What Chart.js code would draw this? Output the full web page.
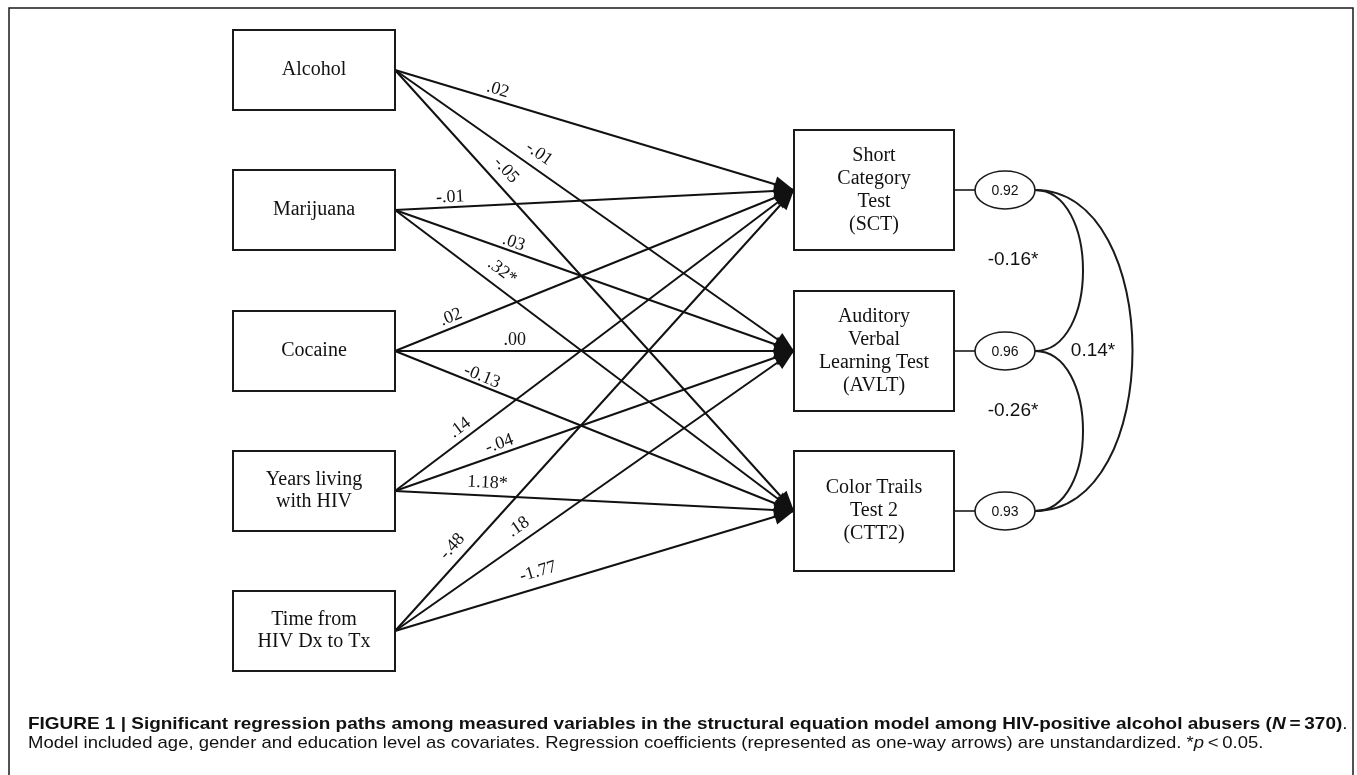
<!DOCTYPE html>
<html>
<head>
<meta charset="utf-8">
<script src="https://cdn.jsdelivr.net/npm/chart.js@4.4.1/dist/chart.umd.min.js"></script>
<style>
  body { margin: 0; background: #fff; }
  #wrap { position: relative; width: 1357px; height: 775px; overflow: hidden; }
  .cap { position: absolute; left: 28px; font-family: "Liberation Sans", Arial, sans-serif; font-size: 17px; line-height: 20px; color: #111; white-space: nowrap; transform-origin: 0 0; }
  #cap1 { top: 714px; font-weight: bold; }
  #cap2 { top: 733px; }
</style>
</head>
<body>
<div id="wrap">
  <canvas id="pathChart" width="1357" height="775"></canvas>
  <div class="cap" id="cap1">FIGURE 1 | Significant regression paths among measured variables in the structural equation model among HIV-positive alcohol abusers (<i>N</i>&#8201;=&#8201;370)<span style="font-weight:normal">.</span></div>
  <div class="cap" id="cap2">Model included age, gender and education level as covariates. Regression coefficients (represented as one-way arrows) are unstandardized. *<i>p</i>&#8201;&lt;&#8201;0.05.</div>
</div>
<script>
// data
const predictors = ['Alcohol', 'Marijuana', 'Cocaine', 'Years living\nwith HIV', 'Time from\nHIV Dx to Tx'];
const outcomes = ['Short\nCategory\nTest\n(SCT)', 'Auditory\nVerbal\nLearning Test\n(AVLT)', 'Color Trails\nTest 2\n(CTT2)'];
const coefSCT  = ['.02', '-.01', '.02', '.14', '-.48'];
const coefAVLT = ['-.01', '.03', '.00', '-.04', '.18'];
const coefCTT2 = ['-.05', '.32*', '-0.13', '1.18*', '-1.77'];
const residuals = ['0.92', '0.96', '0.93'];
// SCT-AVLT, AVLT-CTT2, SCT-CTT2
const covariances = ['-0.16*', '-0.26*', '0.14*'];

// layout (page pixels, used as axis units)
const predX = 233, predW = 162, predH = 80;
const predTop = [30, 170, 311, 451, 591];
const outX = 794, outW = 160, outH = 120;
const outTop = [130, 291, 451];
const ellX = 1005, ellRx = 30, ellRy = 19;
const labT   = [[0.25, 0.34, 0.25], [0.14, 0.29, 0.245], [0.15, 0.30, 0.21], [0.18, 0.27, 0.23], [0.17, 0.33, 0.37]];
const labOff = [[10.7, 14.5, 15.1], [10, 8.9, 15.6], [10.4, 11, 8.6], [11.4, 9.9, 12.8], [14.2, 14.3, 15.6]];

// caption lines are a bit wider in the figure than the font gives
[['cap1', 1319], ['cap2', 1235]].forEach(([id, w]) => {
  const el = document.getElementById(id);
  el.style.transform = 'scaleX(' + (w / el.offsetWidth) + ')';
});

const coefs = [coefSCT, coefAVLT, coefCTT2];
const predY = predTop.map(t => t + predH / 2);
const outY = outTop.map(t => t + outH / 2);

const datasets = [];
predictors.forEach((p, i) => {
  outcomes.forEach((o, j) => {
    datasets.push({
      label: p + ' -> ' + o,
      data: [{x: predX + predW, y: predY[i]}, {x: outX, y: outY[j]}],
      showLine: true,
      borderColor: '#111',
      borderWidth: 2,
      pointRadius: 0,
      coef: coefs[j][i],
      t: labT[i][j],
      off: labOff[i][j]
    });
  });
});

function multiline(c, text, x, y, lh) {
  const lines = text.split('\n');
  const y0 = y - (lines.length - 1) * lh / 2;
  lines.forEach((ln, k) => c.fillText(ln, x, y0 + k * lh));
}

const diagram = {
  id: 'diagram',
  afterDatasetsDraw(chart) {
    const c = chart.ctx;
    const xs = chart.scales.x, ys = chart.scales.y;
    const px = v => xs.getPixelForValue(v);
    const py = v => ys.getPixelForValue(v);
    c.save();
    c.strokeStyle = '#1a1a1a';
    c.fillStyle = '#111';

    // outer frame
    c.lineWidth = 1.5;
    c.beginPath();
    c.moveTo(px(9), py(800)); c.lineTo(px(9), py(8)); c.lineTo(px(1353), py(8)); c.lineTo(px(1353), py(800));
    c.stroke();

    // predictor boxes
    c.lineWidth = 2;
    c.font = '20px "Liberation Serif", serif';
    c.textAlign = 'center';
    c.textBaseline = 'middle';
    predictors.forEach((p, i) => {
      c.strokeRect(px(predX), py(predTop[i]), px(predX + predW) - px(predX), py(predTop[i] + predH) - py(predTop[i]));
      multiline(c, p, px(predX + predW / 2), py(predY[i]), 22);
    });
    // outcome boxes
    outcomes.forEach((o, j) => {
      c.strokeRect(px(outX), py(outTop[j]), px(outX + outW) - px(outX), py(outTop[j] + outH) - py(outTop[j]));
      multiline(c, o, px(outX + outW / 2), py(outY[j]), 23);
    });

    // arrowheads and path labels
    c.font = '18px "Liberation Serif", serif';
    chart.data.datasets.forEach(ds => {
      const a = ds.data[0], b = ds.data[1];
      const x0 = px(a.x), y0 = py(a.y), x1 = px(b.x), y1 = py(b.y);
      const ang = Math.atan2(y1 - y0, x1 - x0);
      const len = 20, hw = 8;
      const bx = x1 - len * Math.cos(ang), by = y1 - len * Math.sin(ang);
      c.beginPath();
      c.moveTo(x1, y1);
      c.lineTo(bx - hw * Math.sin(ang), by + hw * Math.cos(ang));
      c.lineTo(bx + hw * Math.sin(ang), by - hw * Math.cos(ang));
      c.closePath();
      c.fill();

      const d = Math.hypot(x1 - x0, y1 - y0);
      const ux = (x1 - x0) / d, uy = (y1 - y0) / d;
      const lx = x0 + ds.t * (x1 - x0) + uy * ds.off;
      const ly = y0 + ds.t * (y1 - y0) - ux * ds.off;
      c.save();
      c.translate(lx, ly);
      c.rotate(ang);
      c.fillText(ds.coef, 0, 0);
      c.restore();
    });

    // residual ellipses
    c.lineWidth = 1.6;
    c.font = '14px "Liberation Sans", sans-serif';
    outY.forEach((y, j) => {
      c.beginPath();
      c.moveTo(px(outX + outW), py(y));
      c.lineTo(px(ellX - ellRx), py(y));
      c.stroke();
      c.beginPath();
      c.ellipse(px(ellX), py(y), ellRx, ellRy, 0, 0, Math.PI * 2);
      c.stroke();
      c.fillText(residuals[j], px(ellX), py(y) + 1);
    });

    // covariance arcs
    const ex = ellX + ellRx;
    const arc = (ya, yb, dx) => {
      c.beginPath();
      c.moveTo(px(ex), py(ya));
      c.bezierCurveTo(px(ex + dx), py(ya), px(ex + dx), py(yb), px(ex), py(yb));
      c.stroke();
    };
    c.lineWidth = 2;
    arc(outY[0], outY[1], 64);
    arc(outY[1], outY[2], 64);
    arc(outY[0], outY[2], 130);

    c.font = '19px "Liberation Sans", Arial, sans-serif';
    c.fillText(covariances[0], px(1013), py(260));
    c.fillText(covariances[1], px(1013), py(411));
    c.fillText(covariances[2], px(1093), py(351));
    c.restore();
  }
};

new Chart(document.getElementById('pathChart'), {
  type: 'scatter',
  data: { datasets: datasets },
  options: {
    responsive: false,
    devicePixelRatio: 1,
    animation: false,
    layout: { padding: 0 },
    scales: {
      x: { type: 'linear', min: 0, max: 1357, display: false },
      y: { type: 'linear', min: 0, max: 775, reverse: true, display: false }
    },
    plugins: {
      legend: { display: false },
      tooltip: { enabled: false }
    }
  },
  plugins: [diagram]
});
</script>
</body>
</html>
